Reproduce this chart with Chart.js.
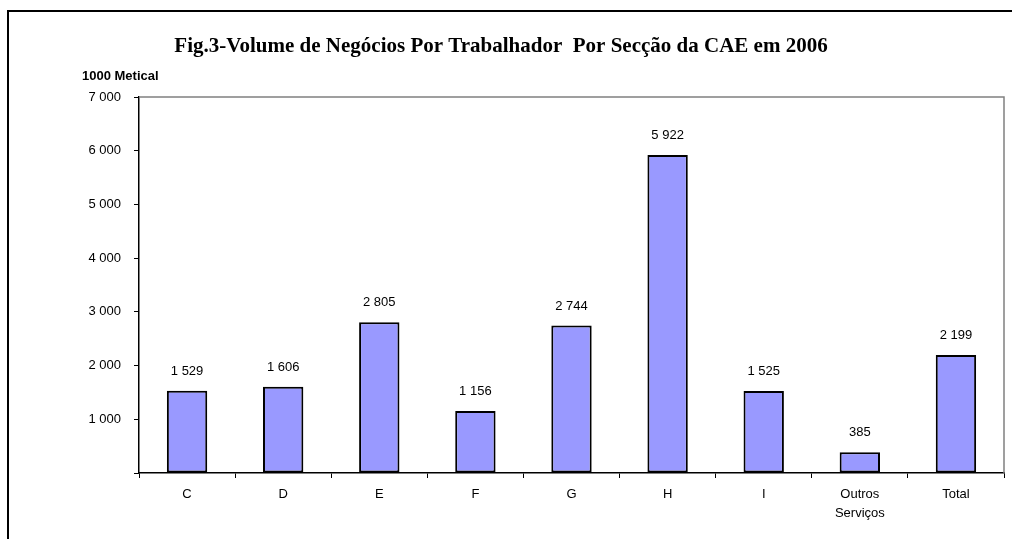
<!DOCTYPE html>
<html>
<head>
<meta charset="utf-8">
<script src="https://cdn.jsdelivr.net/npm/chart.js@4"></script>
<style>
  html, body { margin: 0; padding: 0; background: #fff; }
  #wrap { position: relative; width: 1012px; height: 539px; }
</style>
</head>
<body>
<div id="wrap"><canvas id="chart1"></canvas></div>
<script>
const categories = ['C', 'D', 'E', 'F', 'G', 'H', 'I', ['Outros', 'Serviços'], 'Total'];
const values = [1529, 1606, 2805, 1156, 2744, 5922, 1525, 385, 2199];
const yTicks = [0, 1000, 2000, 3000, 4000, 5000, 6000, 7000];

const titleText = 'Fig.3-Volume de Negócios Por Trabalhador  Por Secção da CAE em 2006';
const unitText = '1000 Metical';

function fmt(v) {
  return String(v).replace(/\B(?=(\d{3})+(?!\d))/g, ' ');
}

// texts, outer frame, plot border and value labels
const extras = {
  id: 'extras',
  afterDraw(chart) {
    const c = chart.ctx;
    const a = chart.chartArea;
    c.save();

    c.strokeStyle = '#000';
    c.lineWidth = 2;
    c.beginPath();
    c.moveTo(8, 539);
    c.lineTo(8, 11);
    c.lineTo(1012, 11);
    c.stroke();

    c.strokeStyle = '#808080';
    c.lineWidth = 1.5;
    c.beginPath();
    c.moveTo(a.left, a.top);
    c.lineTo(a.right, a.top);
    c.lineTo(a.right, a.bottom);
    c.stroke();

    c.fillStyle = '#000';
    c.textAlign = 'center';
    c.textBaseline = 'middle';
    c.font = 'bold 21px "Liberation Serif", "Times New Roman", serif';
    c.fillText(titleText, 501, 47);

    c.textAlign = 'left';
    c.font = 'bold 13px "Liberation Sans", Arial, sans-serif';
    c.fillText(unitText, 82, 76);

    c.textAlign = 'center';
    c.textBaseline = 'bottom';
    c.font = '13px "Liberation Sans", Arial, sans-serif';
    const meta = chart.getDatasetMeta(0);
    meta.data.forEach((bar, i) => {
      c.fillText(fmt(values[i]), bar.x, bar.y - 13);
    });
    c.restore();
  }
};

const ctx1 = document.getElementById('chart1');

new Chart(ctx1, {
  type: 'bar',
  data: {
    labels: categories,
    datasets: [{
      data: values,
      backgroundColor: '#9999FF',
      borderColor: '#000',
      borderWidth: 2,
      borderSkipped: false,
      barPercentage: 0.42,
      categoryPercentage: 1
    }]
  },
  options: {
    responsive: true,
    maintainAspectRatio: false,
    animation: false,
    layout: { padding: { top: 97, right: 8, left: 0, bottom: 0 } },
    plugins: {
      legend: { display: false },
      title: { display: false },
      tooltip: { enabled: false }
    },
    scales: {
      x: {
        afterFit(scale) { scale.height = 66; },
        grid: {
          drawOnChartArea: false,
          drawTicks: true,
          tickLength: 5,
          color: '#000',
          offset: true
        },
        border: { color: '#000', width: 1.5 },
        ticks: {
          color: '#000',
          padding: 7,
          font: { family: '"Liberation Sans", Arial, sans-serif', size: 13, lineHeight: 1.46 }
        }
      },
      y: {
        min: 0,
        max: 7000,
        afterFit(scale) { scale.width = 139; },
        afterBuildTicks(scale) {
          scale.ticks = yTicks.map(v => ({ value: v }));
        },
        grid: {
          drawOnChartArea: false,
          drawTicks: true,
          tickLength: 5,
          color: '#000'
        },
        border: { color: '#000', width: 1.5 },
        ticks: {
          color: '#000',
          padding: 13,
          font: { family: '"Liberation Sans", Arial, sans-serif', size: 13 },
          callback: v => v === 0 ? '' : fmt(v)
        }
      }
    }
  },
  plugins: [extras]
});
</script>
</body>
</html>
